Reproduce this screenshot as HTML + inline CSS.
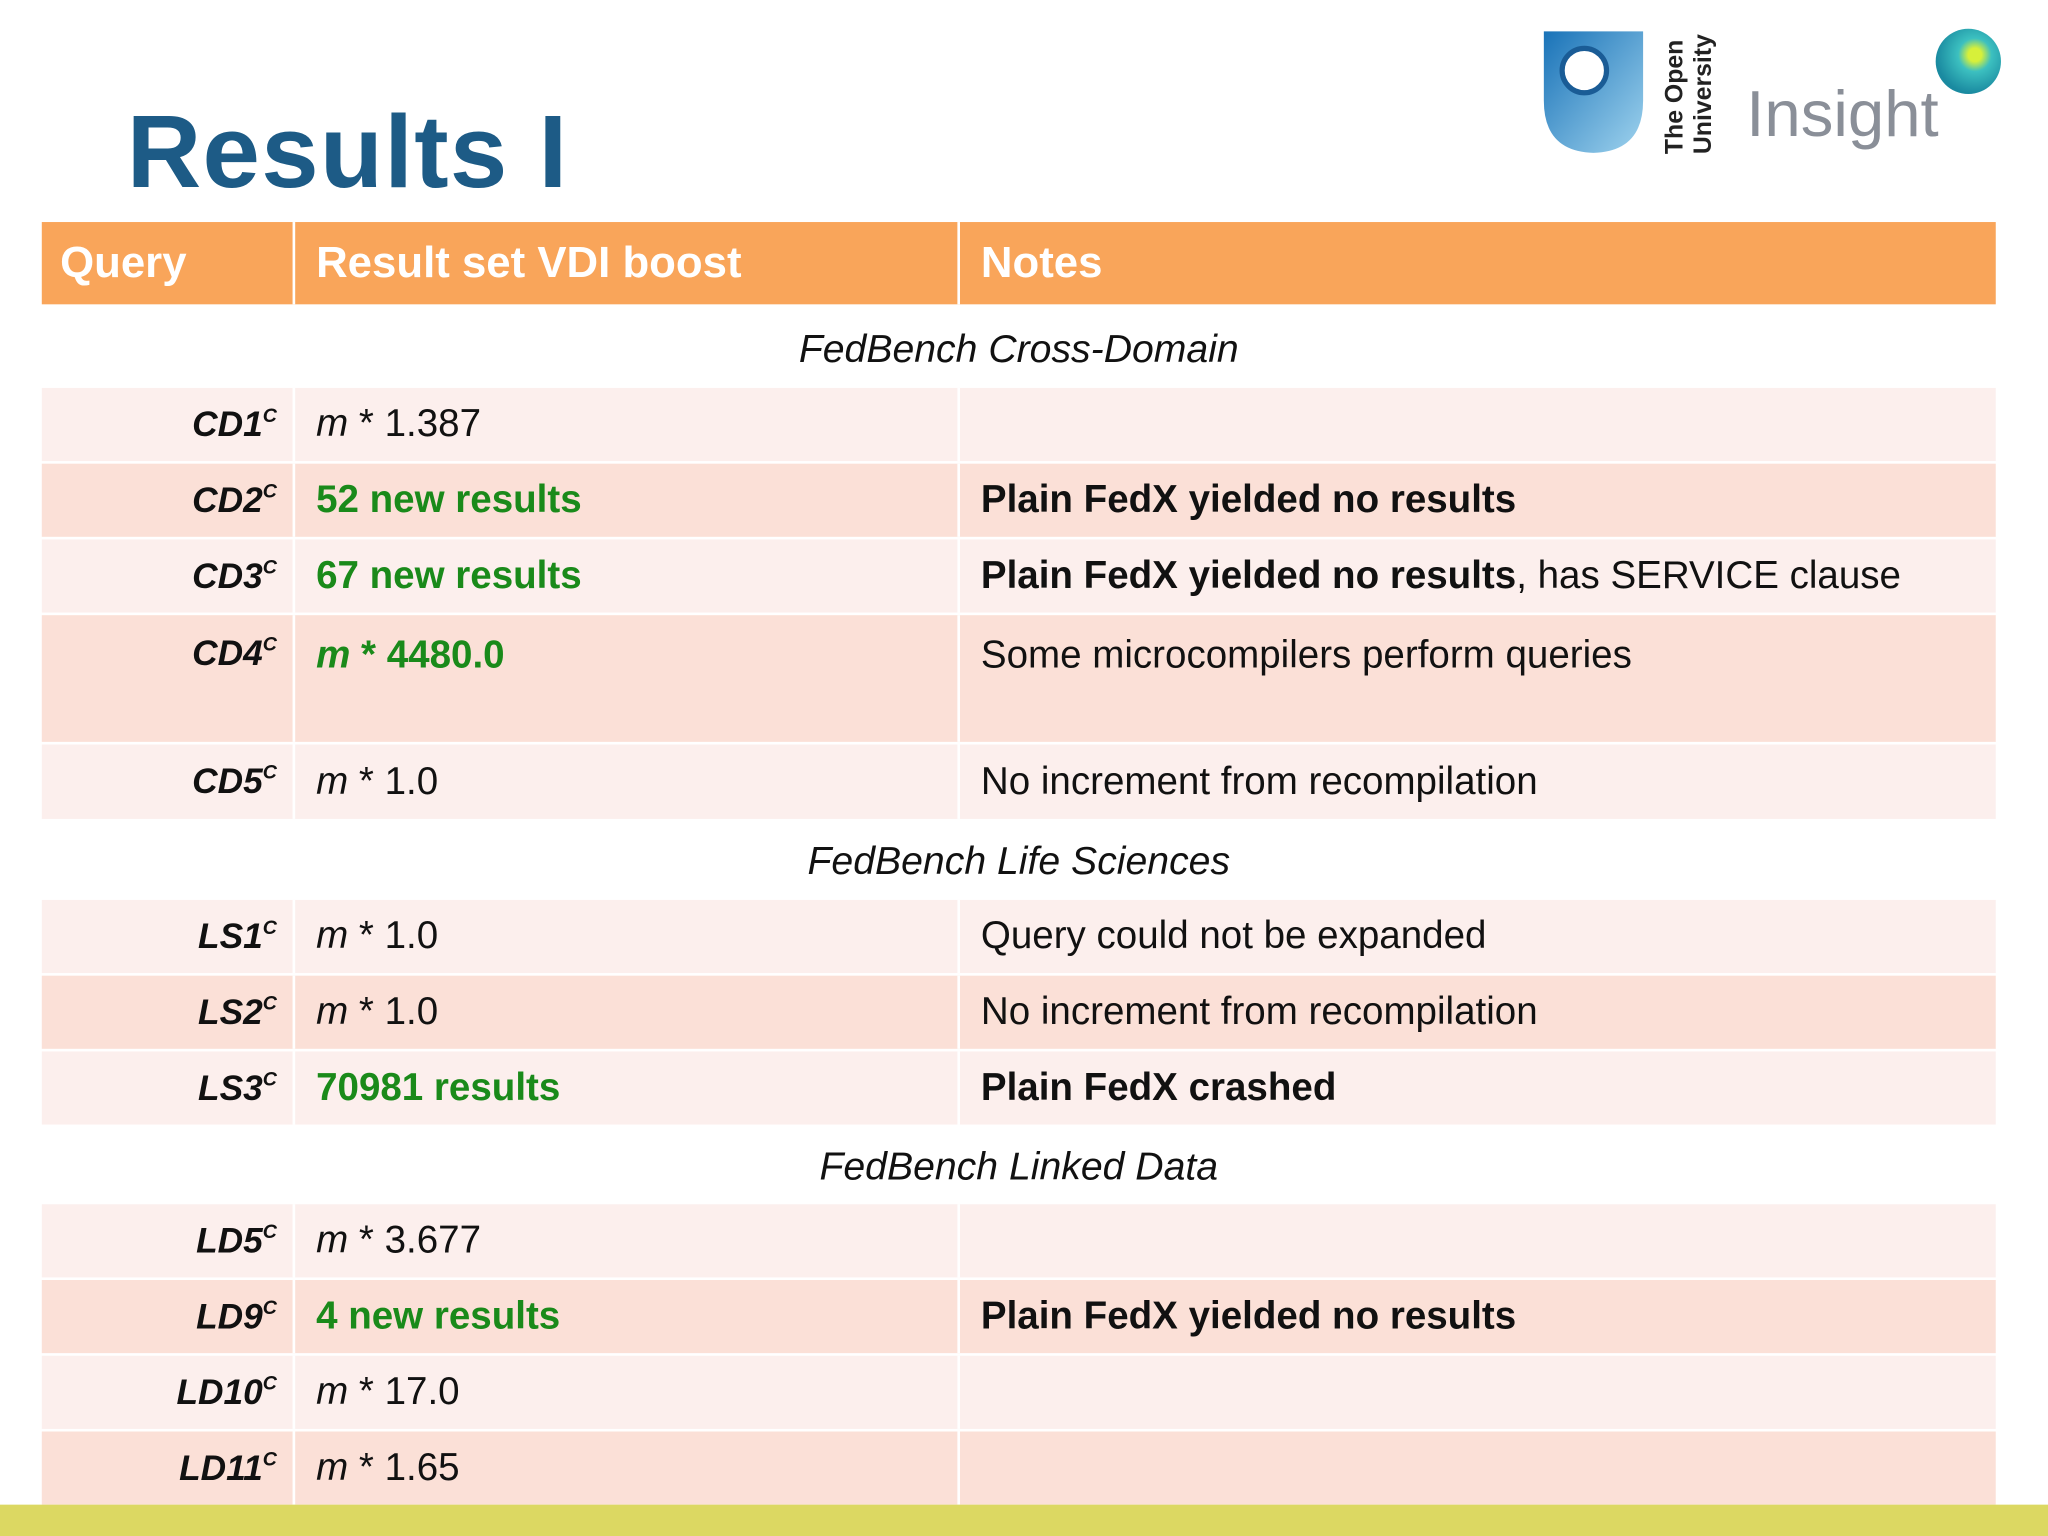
<!DOCTYPE html>
<html><head><meta charset="utf-8"><style>
html,body{margin:0;padding:0;background:#fff;width:2048px;height:1536px;overflow:hidden}
#s{position:absolute;left:0;top:0;width:1568px;height:1176px;transform:scale(1.306122);transform-origin:0 0;font-family:"Liberation Sans",sans-serif}
.t{position:absolute;left:97px;top:70px;font-size:79px;font-weight:bold;color:#1d5b86;letter-spacing:1px}
.r{position:absolute;left:32px;width:1496px}
.c{position:absolute;top:0;bottom:0;display:flex;align-items:center;font-size:29.5px;color:#111;white-space:nowrap}
.c1{left:0;width:180px;justify-content:flex-end;font-weight:bold;font-style:italic;font-size:27px}
.c2{left:192px;width:502px;padding-left:16px;box-sizing:border-box;border-left:2px solid #fff}
.c3{left:701px;width:795px;padding-left:16px;box-sizing:border-box;border-left:2px solid #fff}
.top .c{align-items:flex-start;padding-top:14px}
.hd{background:#f9a55a}
.hd .c{color:#fff;font-weight:bold;font-size:33.5px}
.hd .c1{justify-content:flex-start;padding-left:14px;font-style:normal}
.a{background:#fcefed}.b{background:#fbe0d7}
.sec{display:flex;align-items:center;justify-content:center;font-style:italic;font-size:30px;color:#111}
.g{color:#1a8a1a;font-weight:bold}
sup{font-size:15px;vertical-align:11px;line-height:0}
</style></head><body>
<div id="s">
<div class="t">Results I</div>
<div style="position:absolute;left:1180px;top:22px;width:80px;height:96px">
<svg width="80" height="96"><defs><linearGradient id="gb" x1="0" y1="0" x2="1" y2="1"><stop offset="0" stop-color="#1a73b8"/><stop offset="1" stop-color="#9fd3ee"/></linearGradient></defs>
<path d="M2 2 H78 V55 Q78 94 40 95 Q2 94 2 55 Z" fill="url(#gb)"/><circle cx="33" cy="32" r="17" fill="#fff" stroke="#1a5c96" stroke-width="4"/></svg></div>
<div style="position:absolute;left:1272px;top:118px;transform:rotate(-90deg);transform-origin:0 0;font-size:19px;line-height:22px;color:#222;font-weight:bold">The Open<br>University</div>
<div style="position:absolute;left:1337px;top:58px;font-size:50px;color:#8a8f98">Insight</div>
<div style="position:absolute;left:1482px;top:22px;width:50px;height:50px;border-radius:50%;background:radial-gradient(circle at 60% 40%,#d7f03a 0 12%,#3cc0c0 30%,#1a8aa0 70%)"></div>

<div class="r hd" style="top:170px;height:63px">
<div class="c c1">Query</div><div class="c c2">Result set VDI boost</div><div class="c c3">Notes</div></div>

<div class="r sec" style="top:237px;height:62px">FedBench Cross-Domain</div>
<div class="r a" style="top:297px;height:56px"><div class="c c1"><span>CD1<sup>C</sup></span></div><div class="c c2"><span><i>m</i> * 1.387</span></div><div class="c c3"></div></div>
<div class="r b" style="top:355px;height:56px"><div class="c c1"><span>CD2<sup>C</sup></span></div><div class="c c2 g">52 new results</div><div class="c c3"><b>Plain FedX yielded no results</b></div></div>
<div class="r a" style="top:413px;height:56px"><div class="c c1"><span>CD3<sup>C</sup></span></div><div class="c c2 g">67 new results</div><div class="c c3"><span><b>Plain FedX yielded no results</b>, has SERVICE clause</span></div></div>
<div class="r b top" style="top:471px;height:97px"><div class="c c1"><span>CD4<sup>C</sup></span></div><div class="c c2 g"><span><i>m</i> * 4480.0</span></div><div class="c c3">Some microcompilers perform queries</div></div>
<div class="r a" style="top:570px;height:57px"><div class="c c1"><span>CD5<sup>C</sup></span></div><div class="c c2"><span><i>m</i> * 1.0</span></div><div class="c c3">No increment from recompilation</div></div>

<div class="r sec" style="top:630px;height:60px">FedBench Life Sciences</div>
<div class="r a" style="top:689px;height:56px"><div class="c c1"><span>LS1<sup>C</sup></span></div><div class="c c2"><span><i>m</i> * 1.0</span></div><div class="c c3">Query could not be expanded</div></div>
<div class="r b" style="top:747px;height:56px"><div class="c c1"><span>LS2<sup>C</sup></span></div><div class="c c2"><span><i>m</i> * 1.0</span></div><div class="c c3">No increment from recompilation</div></div>
<div class="r a" style="top:805px;height:56px"><div class="c c1"><span>LS3<sup>C</sup></span></div><div class="c c2 g">70981 results</div><div class="c c3"><b>Plain FedX crashed</b></div></div>

<div class="r sec" style="top:864px;height:59px">FedBench Linked Data</div>
<div class="r a" style="top:922px;height:56px"><div class="c c1"><span>LD5<sup>C</sup></span></div><div class="c c2"><span><i>m</i> * 3.677</span></div><div class="c c3"></div></div>
<div class="r b" style="top:980px;height:56px"><div class="c c1"><span>LD9<sup>C</sup></span></div><div class="c c2 g">4 new results</div><div class="c c3"><b>Plain FedX yielded no results</b></div></div>
<div class="r a" style="top:1038px;height:56px"><div class="c c1"><span>LD10<sup>C</sup></span></div><div class="c c2"><span><i>m</i> * 17.0</span></div><div class="c c3"></div></div>
<div class="r b" style="top:1096px;height:56px"><div class="c c1"><span>LD11<sup>C</sup></span></div><div class="c c2"><span><i>m</i> * 1.65</span></div><div class="c c3"></div></div>

<div style="position:absolute;left:0;top:1152px;width:1568px;height:24px;background:#dcd862"></div>
</div>
</body></html>
